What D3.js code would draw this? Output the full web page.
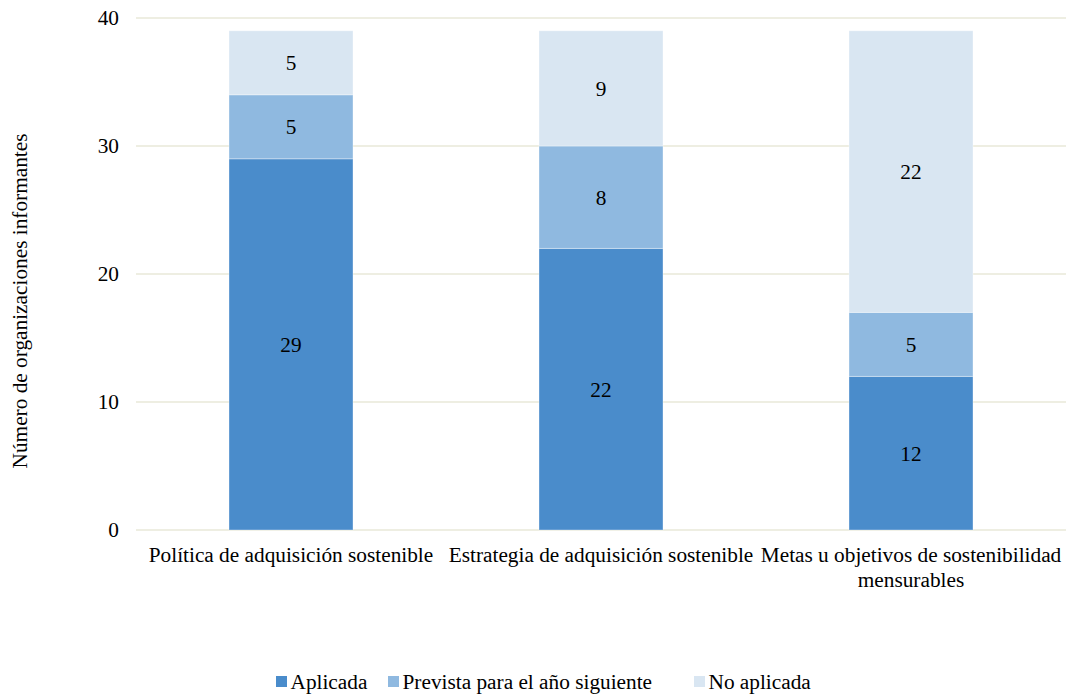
<!DOCTYPE html>
<html><head><meta charset="utf-8">
<script src="https://cdn.jsdelivr.net/npm/d3@7"></script>
<style>body{margin:0;background:#fff}svg{display:block}</style>
</head><body><svg id="c" width="1068" height="696"></svg>
<script>
const categories = [["Política de adquisición sostenible"],["Estrategia de adquisición sostenible"],["Metas u objetivos de sostenibilidad","mensurables"]];
const seriesNames = ["Aplicada","Prevista para el año siguiente","No aplicada"];
const aplicada = [29,22,12];
const prevista = [5,8,5];
const noAplicada = [5,9,22];
const yTicks = [0,10,20,30,40];
const colors = ["#4a8ccb","#8fb9e0","#d9e6f2"];

const FONT = "'Liberation Serif'";
const FS = 21.3;
const svg = d3.select("#c");
const m = {l:136,r:1066,t:18,b:530};
const x = d3.scaleBand().domain(d3.range(categories.length)).range([m.l,m.r]).paddingInner(0.6).paddingOuter(0.3);
const y = d3.scaleLinear().domain([0,40]).range([m.b,m.t]);
const T = sel => sel.attr("font-size",FS).attr("fill","#000").style("font-family",FONT);

svg.append("g").selectAll("line").data(yTicks).join("line")
 .attr("x1",m.l).attr("x2",m.r).attr("y1",d=>y(d)).attr("y2",d=>y(d))
 .attr("stroke","#e9e9d9").attr("stroke-width",1.3);
svg.append("g").selectAll("text").data(yTicks).join("text").call(T)
 .attr("x",119).attr("y",d=>y(d)+7).attr("text-anchor","end").text(d=>d);

const rows = categories.map((c,i)=>({i, a:aplicada[i], p:prevista[i], n:noAplicada[i]}));
const stack = d3.stack().keys(["a","p","n"])(rows);
stack.forEach((s,k)=>{
  const g = svg.append("g");
  g.selectAll("rect").data(s).join("rect")
   .attr("x",d=>x(d.data.i)).attr("width",x.bandwidth())
   .attr("y",d=>y(d[1])).attr("height",d=>y(d[0])-y(d[1]))
   .attr("fill",colors[k]).attr("stroke","#ffffff").attr("stroke-opacity",0.35).attr("stroke-width",1);
  g.selectAll("text").data(s).join("text").call(T)
   .attr("x",d=>x(d.data.i)+x.bandwidth()/2).attr("y",d=>(y(d[0])+y(d[1]))/2+7.5)
   .attr("text-anchor","middle").text(d=>d[1]-d[0]);
});

svg.append("g").selectAll("text").data(categories).join("text").call(T)
 .attr("x",(d,i)=>x(i)+x.bandwidth()/2).attr("y",562).attr("text-anchor","middle")
 .each(function(d){ const xx=d3.select(this).attr("x"); d3.select(this).selectAll("tspan").data(d).join("tspan")
   .attr("x",xx).attr("dy",(t,j)=>j?25:0).text(t=>t); });

svg.append("text").call(T).attr("transform","translate(27,301) rotate(-90)")
 .attr("text-anchor","middle").text("Número de organizaciones informantes");

const legX = [276,388,694];
const lg = svg.append("g");
seriesNames.forEach((n,k)=>{
  lg.append("rect").attr("x",legX[k]).attr("y",676).attr("width",11).attr("height",11).attr("fill",colors[k]);
  lg.append("text").call(T).attr("x",legX[k]+14.5).attr("y",689).text(n);
});
</script></body></html>
